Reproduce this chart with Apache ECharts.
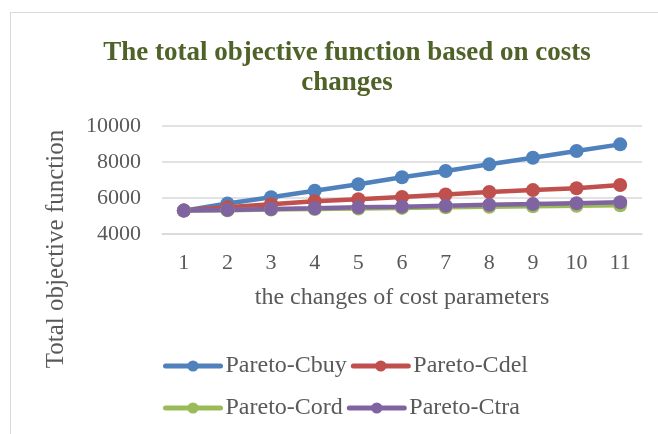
<!DOCTYPE html>
<html>
<head>
<meta charset="utf-8">
<script src="https://cdn.jsdelivr.net/npm/echarts@6/dist/echarts.min.js"></script>
<style>
  html, body { margin: 0; padding: 0; background: #fff; }
  #frame { position: absolute; left: 10px; top: 12px; width: 700px; height: 500px; border: 1px solid #d9d9d9; }
  #chart { position: absolute; left: 0; top: 0; width: 658px; height: 434px; }
</style>
</head>
<body>
<div id="frame"></div>
<div id="chart"></div>
<script>
// x categories and series values
const categories = ['1', '2', '3', '4', '5', '6', '7', '8', '9', '10', '11']
const cbuy = [5300, 5700, 6040, 6400, 6760, 7150, 7500, 7870, 8240, 8610, 8980]
const cdel = [5300, 5480, 5650, 5820, 5930, 6060, 6200, 6330, 6440, 6540, 6720]
const cord = [5300, 5320, 5360, 5390, 5420, 5450, 5480, 5510, 5540, 5570, 5600]
const ctra = [5300, 5340, 5390, 5430, 5480, 5520, 5570, 5620, 5660, 5710, 5760]
const yTicks = [4000, 6000, 8000, 10000]

const font = 'Liberation Serif'
const colors = ['#4F81BD', '#C0504D', '#9BBB59', '#8064A2']

const chart = echarts.init(document.getElementById('chart'))

function makeSeries(name, data, color) {
  return {
    name: name,
    type: 'line',
    data: data,
    symbol: 'circle',
    symbolSize: 14,
    color: color,
    lineStyle: { color: color, width: 4.5 },
    itemStyle: { color: color },
    animation: false
  }
}

// two legend rows, so the second column lines up
const legendCommon = {
  left: 158,
  itemWidth: 55,
  itemHeight: 14,
  itemGap: 4,
  lineStyle: { width: 5, cap: 'round' },
  textStyle: { fontFamily: font, fontSize: 24, color: '#595959', width: 120 }
}

chart.setOption({
  title: {
    text: 'The total objective function based on costs\nchanges',
    left: 342,
    top: 33,
    textAlign: 'center',
    textStyle: {
      fontFamily: font,
      fontSize: 27,
      fontWeight: 'bold',
      color: '#4F6228',
      lineHeight: 30
    }
  },
  grid: { left: 162, right: 16, top: 126, bottom: 200 },
  xAxis: {
    type: 'category',
    data: categories,
    boundaryGap: true,
    axisLine: { lineStyle: { color: '#d9d9d9', width: 1.5 } },
    axisTick: { show: false },
    axisLabel: { fontFamily: font, fontSize: 22, color: '#595959', margin: 18 },
    name: 'the changes of cost parameters',
    nameLocation: 'middle',
    nameGap: 52,
    nameTextStyle: { fontFamily: font, fontSize: 24, color: '#595959' }
  },
  yAxis: {
    type: 'value',
    min: yTicks[0],
    max: yTicks[yTicks.length - 1],
    interval: 2000,
    axisLine: { show: false },
    axisTick: { show: false },
    splitLine: { lineStyle: { color: '#d9d9d9', width: 1.5 } },
    axisLabel: {
      fontFamily: font,
      fontSize: 22,
      color: '#595959',
      margin: 21,
      formatter: function (v) { return String(v) }
    }
  },
  graphic: [{
    type: 'text',
    x: 56,
    y: 249,
    rotation: Math.PI / 2,
    style: {
      text: 'Total objective function',
      font: '25px "Liberation Serif"',
      fill: '#595959',
      align: 'center',
      verticalAlign: 'middle'
    }
  }],
  legend: [
    Object.assign({}, legendCommon, { top: 349, data: ['Pareto-Cbuy', 'Pareto-Cdel'] }),
    Object.assign({}, legendCommon, { top: 391, data: ['Pareto-Cord', 'Pareto-Ctra'] })
  ],
  series: [
    makeSeries('Pareto-Cbuy', cbuy, colors[0]),
    makeSeries('Pareto-Cdel', cdel, colors[1]),
    makeSeries('Pareto-Cord', cord, colors[2]),
    makeSeries('Pareto-Ctra', ctra, colors[3])
  ]
})
</script>
</body>
</html>
